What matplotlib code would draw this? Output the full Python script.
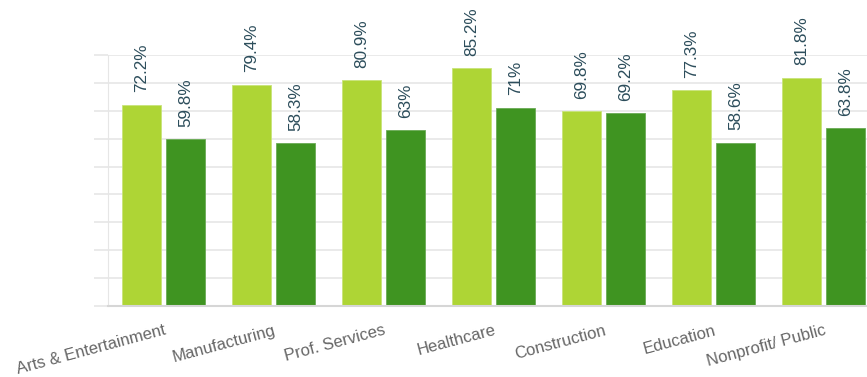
import matplotlib.pyplot as plt
import numpy as np

plt.rcParams['font.family'] = ['Liberation Sans', 'DejaVu Sans']

categories = ['Arts & Entertainment', 'Manufacturing', 'Prof. Services', 'Healthcare',
              'Construction', 'Education', 'Nonprofit/ Public']
series_a = [72.2, 79.4, 80.9, 85.2, 69.8, 77.3, 81.8]
series_b = [59.8, 58.3, 63.0, 71.0, 69.2, 58.6, 63.8]
labels_a = ['72.2%', '79.4%', '80.9%', '85.2%', '69.8%', '77.3%', '81.8%']
labels_b = ['59.8%', '58.3%', '63%', '71%', '69.2%', '58.6%', '63.8%']

LIGHT = '#aed535'
DARK = '#3f9421'
LABEL = '#2c4d5b'

fig = plt.figure(figsize=(8.67, 3.77), dpi=100)
# plot area runs past the right edge, as in the original
ax = fig.add_axes([108.3 / 867, 1 - 306 / 377, 770 / 867, 251 / 377])

x = np.arange(len(categories))
w = 0.357
off = 0.2
bars_a = ax.bar(x - off, series_a, w, color=LIGHT, edgecolor='#c8e47a', linewidth=0.6, zorder=3)
bars_b = ax.bar(x + off, series_b, w, color=DARK, edgecolor='#6aab55', linewidth=0.6, zorder=3)

for bars, labs in [(bars_a, labels_a), (bars_b, labels_b)]:
    for b, t in zip(bars, labs):
        ax.annotate(t, (b.get_x() + b.get_width() / 2, b.get_height()),
                    xytext=(0, 9), textcoords='offset points',
                    rotation=90, ha='center', va='bottom', fontsize=12.3,
                    color=LABEL, annotation_clip=False, clip_on=False)

ax.set_xlim(-0.5, len(categories) - 0.5)
ax.set_ylim(0, 90)
ax.set_yticks(np.arange(0, 91, 10))
ax.set_yticklabels([])
ax.grid(axis='y', color='#e6e6e6', linewidth=1.2, zorder=0)
ax.tick_params(axis='y', length=10, color='#e6e6e6', width=1.2)
ax.tick_params(axis='x', length=0, pad=12)

ax.set_xticks(x)
ax.set_xticklabels(categories, rotation=15, ha='right', rotation_mode='anchor',
                   fontsize=12, color='#666666')
ax.spines['top'].set_visible(False)
ax.spines['right'].set_visible(False)
ax.spines['left'].set_color('#e6e6e6')
ax.spines['bottom'].set_color('#d6d6d6')
ax.spines['bottom'].set_linewidth(1.5)
ax.spines['bottom'].set_zorder(4)

fig.savefig('out.png', dpi=100)
